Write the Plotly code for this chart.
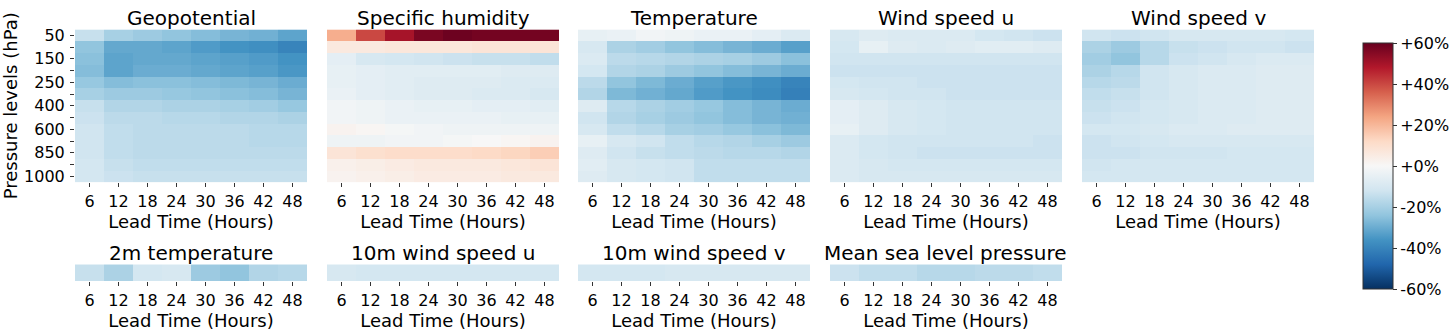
import plotly.graph_objects as go

# Lead times (hours) and pressure levels (hPa)
lead_times = [6, 12, 18, 24, 30, 36, 42, 48]
levels = ["50", "100", "150", "200", "250", "300", "400", "500", "600", "700", "850", "925", "1000"]
level_labels = ["50", "", "150", "", "250", "", "400", "", "600", "", "850", "", "1000"]

# Relative change (%) per pressure level (rows) and lead time (columns)
geopotential = [
    [-14, -20, -22, -24, -26, -28, -29, -32],
    [-24, -31, -31, -32, -34, -36, -37, -40],
    [-25, -32, -31, -31, -32, -33, -34, -36],
    [-26, -32, -30, -30, -31, -32, -33, -35],
    [-23, -26, -25, -25, -26, -27, -28, -30],
    [-20, -22, -22, -23, -24, -25, -26, -28],
    [-14, -18, -18, -19, -19, -20, -21, -23],
    [-13, -16, -16, -17, -17, -18, -18, -19],
    [-12, -15, -16, -16, -16, -16, -17, -17],
    [-12, -15, -16, -16, -16, -16, -17, -17],
    [-12, -15, -16, -16, -16, -16, -16, -16],
    [-11, -14, -15, -15, -15, -15, -15, -15],
    [-11, -13, -14, -14, -14, -14, -14, -14],
]
specific_humidity = [
    [22, 40, 50, 57, 59, 58, 58, 58],
    [6, 6, 7, 7, 7, 8, 8, 8],
    [-6, -10, -11, -12, -13, -14, -14, -15],
    [-5, -6, -7, -7, -7, -7, -8, -8],
    [-5, -6, -7, -8, -8, -8, -9, -9],
    [-4, -6, -7, -8, -8, -9, -9, -10],
    [-2, -3, -4, -5, -5, -6, -6, -7],
    [-2, -3, -4, -4, -4, -4, -5, -5],
    [2, 1, -1, -2, -3, -3, -3, -3],
    [-3, -3, -2, -2, -1, 0, 1, 2],
    [8, 10, 11, 11, 11, 12, 13, 15],
    [3, 4, 5, 6, 6, 6, 7, 8],
    [2, 3, 4, 5, 5, 5, 6, 6],
]
temperature = [
    [-5, -4, -2, -3, -4, -4, -6, -9],
    [-10, -19, -21, -24, -26, -28, -30, -33],
    [-9, -16, -17, -18, -19, -20, -22, -25],
    [-11, -18, -19, -22, -24, -26, -28, -30],
    [-16, -24, -27, -30, -33, -35, -37, -40],
    [-18, -27, -29, -31, -34, -36, -38, -41],
    [-8, -17, -19, -21, -23, -26, -28, -30],
    [-12, -18, -20, -22, -24, -26, -28, -29],
    [-10, -15, -17, -20, -21, -23, -25, -27],
    [-5, -10, -12, -15, -17, -18, -20, -22],
    [-8, -12, -14, -15, -16, -17, -17, -18],
    [-7, -10, -11, -12, -15, -15, -15, -15],
    [-8, -10, -11, -12, -15, -15, -15, -15],
]
wind_u = [
    [-10, -8, -9, -9, -9, -11, -12, -13],
    [-11, -5, -8, -9, -8, -7, -7, -8],
    [-12, -12, -12, -12, -12, -12, -12, -12],
    [-13, -13, -13, -13, -13, -13, -13, -13],
    [-11, -12, -12, -13, -13, -13, -13, -13],
    [-10, -11, -12, -12, -13, -13, -13, -13],
    [-6, -8, -10, -11, -12, -12, -12, -12],
    [-6, -8, -10, -11, -12, -12, -12, -12],
    [-5, -8, -10, -11, -12, -12, -12, -12],
    [-9, -11, -12, -12, -12, -12, -12, -13],
    [-9, -11, -12, -13, -13, -13, -13, -13],
    [-9, -10, -11, -11, -11, -11, -11, -11],
    [-9, -10, -10, -10, -10, -10, -10, -10],
]
wind_v = [
    [-12, -13, -12, -10, -10, -10, -10, -11],
    [-19, -22, -17, -14, -13, -12, -12, -13],
    [-21, -24, -17, -13, -12, -10, -9, -9],
    [-19, -17, -12, -10, -9, -9, -8, -8],
    [-17, -16, -12, -10, -9, -9, -8, -8],
    [-15, -14, -12, -10, -9, -9, -8, -8],
    [-14, -13, -11, -10, -9, -9, -8, -8],
    [-13, -12, -11, -10, -9, -9, -8, -8],
    [-11, -11, -10, -9, -9, -8, -8, -8],
    [-13, -12, -11, -10, -10, -10, -10, -10],
    [-13, -13, -12, -12, -12, -11, -11, -11],
    [-12, -11, -11, -11, -11, -11, -11, -11],
    [-11, -11, -11, -11, -11, -11, -11, -11],
]
t2m = [-14, -19, -11, -10, -22, -24, -18, -17]
u10 = [-10, -11, -11, -11, -11, -11, -11, -11]
v10 = [-11, -11, -11, -10, -10, -10, -10, -10]
mslp = [-13, -15, -15, -17, -17, -16, -16, -15]

upper_vars = [
    ("Geopotential", geopotential),
    ("Specific humidity", specific_humidity),
    ("Temperature", temperature),
    ("Wind speed u", wind_u),
    ("Wind speed v", wind_v),
]
surface_vars = [
    ("2m temperature", t2m),
    ("10m wind speed u", u10),
    ("10m wind speed v", v10),
    ("Mean sea level pressure", mslp),
]

cbar_vals = [-60, -40, -20, 0, 20, 40, 60]
cbar_text = ["-60%", "-40%", "-20%", "+0%", "+20%", "+40%", "+60%"]

# Diverging blue-white-red scale (ColorBrewer RdBu, reversed)
rdbu_r = ["#053061", "#2166ac", "#4393c3", "#92c5de", "#d1e5f0", "#f7f7f7",
          "#fddbc7", "#f4a582", "#d6604d", "#b2182b", "#67001f"]
colorscale = [[i / (len(rdbu_r) - 1), c] for i, c in enumerate(rdbu_r)]

W, H = 1456, 332
FONT = "DejaVu Sans"


def px_x(a):
    return a / W


def px_y(a):
    return 1 - a / H


col_left = [75, 327, 578, 830, 1082]
col_width = 232
top_y = (27, 183)
bot_y = (267, 284)

fig = go.Figure()
annotations = []
axis_font = dict(family=FONT, size=16, color="black")
title_font = dict(family=FONT, size=18, color="black")


def add_panel(idx, title, z, ybounds, rows, show_levels):
    ax = "" if idx == 1 else str(idx)
    left = col_left[(idx - 1) % 5]
    fig.add_trace(go.Heatmap(
        z=z, x=lead_times, y=rows, coloraxis="coloraxis",
        xaxis="x" + ax, yaxis="y" + ax,
    ))
    xdom = [px_x(left), px_x(left + col_width)]
    ydom = [px_y(ybounds[1]), px_y(ybounds[0])]
    fig.layout["xaxis" + ax] = dict(
        domain=xdom, anchor="y" + ax, tickvals=lead_times,
        ticks="outside", ticklen=4, tickwidth=1, tickcolor="#333",
        ticklabelstandoff=1,
        tickfont=axis_font, showgrid=False, zeroline=False, showline=False,
        range=[3, 51],
        title=dict(text="Lead Time (Hours)", font=title_font, standoff=0),
    )
    ycfg = dict(
        domain=ydom, anchor="x" + ax, type="category", autorange="reversed",
        showgrid=False, zeroline=False, showline=False,
    )
    if show_levels:
        ycfg.update(tickvals=levels, ticktext=level_labels, ticks="outside",
                    ticklen=4, tickwidth=1, tickcolor="#333", tickfont=axis_font,
                    ticklabelstandoff=2,
                    title=dict(text="Pressure levels (hPa)", font=title_font, standoff=2))
    else:
        ycfg.update(showticklabels=False, ticks="")
    fig.layout["yaxis" + ax] = ycfg
    annotations.append(dict(
        text=title, x=(xdom[0] + xdom[1]) / 2, y=ydom[1], xref="paper", yref="paper",
        xanchor="center", yanchor="bottom", yshift=-3, showarrow=False,
        font=dict(family=FONT, size=20, color="black"),
    ))


for i, (name, z) in enumerate(upper_vars):
    add_panel(i + 1, name, z, top_y, levels, i == 0)

for j, (name, vals) in enumerate(surface_vars):
    add_panel(6 + j, name, [vals], bot_y, ["sfc"], False)

fig.update_layout(
    width=W, height=H,
    margin=dict(l=0, r=0, t=0, b=0),
    paper_bgcolor="white", plot_bgcolor="white",
    font=dict(family=FONT, color="black"),
    annotations=annotations,
    coloraxis=dict(
        colorscale=colorscale, cmin=-60, cmax=60,
        colorbar=dict(
            x=px_x(1363), xanchor="left", xpad=0,
            y=px_y(41), yanchor="top", ypad=0,
            len=(292 - 41) / H, lenmode="fraction",
            thickness=30, thicknessmode="pixels",
            outlinewidth=1, outlinecolor="#333",
            tickvals=cbar_vals, ticktext=cbar_text,
            ticks="outside", ticklen=4, tickcolor="#333",
            tickfont=axis_font,
        ),
    ),
    showlegend=False,
)

fig.write_html("out.html")
